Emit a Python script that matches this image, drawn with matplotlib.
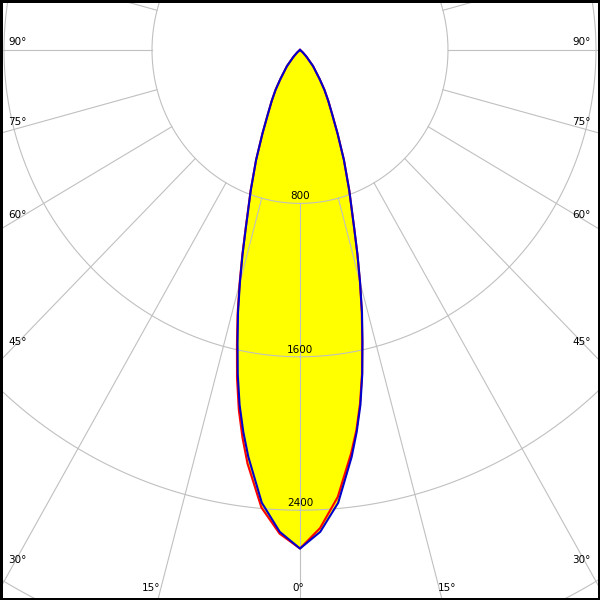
import numpy as np
import matplotlib
matplotlib.use('Agg')
import matplotlib.pyplot as plt

# gamma angles (deg) and luminous intensity (cd)
angles = [0, 2.5, 5, 7.5, 8.75, 10, 11.25, 12.5, 13.75, 15, 16.25, 17.5, 20, 22.5, 25, 27.5,
          30, 32.5, 35, 40, 45, 50, 55, 60, 70, 80, 90]
c0 = [2600, 2495, 2340, 2120, 2005, 1870, 1720, 1555, 1405, 1252, 1108, 973, 778, 620, 480, 375,
      305, 245, 185, 110, 50, 20, 6, 0, 0, 0, 0]
c180 = [2600, 2525, 2395, 2175, 2045, 1905, 1745, 1575, 1420, 1262, 1115, 978, 780, 620, 480, 375,
        305, 245, 185, 110, 50, 20, 6, 0, 0, 0, 0]
c90 = [2600, 2515, 2370, 2140, 2015, 1880, 1725, 1560, 1410, 1255, 1110, 975, 778, 620, 480, 375,
       305, 245, 185, 110, 50, 20, 6, 0, 0, 0, 0]
c270 = c90

rings = [800, 1600, 2400, 3200]
ring_labels = ["800", "1600", "2400"]
spokes = np.arange(-180, 181, 15)

# angle labels: (text, x px, y px, alignment)
angle_labels = [
    ("90°", 8, 42, 'left'), ("75°", 8, 122, 'left'), ("60°", 8, 215, 'left'),
    ("45°", 8, 342, 'left'), ("30°", 8, 560, 'left'),
    ("90°", 591, 42, 'right'), ("75°", 591, 122, 'right'), ("60°", 591, 215, 'right'),
    ("45°", 591, 342, 'right'), ("30°", 591, 560, 'right'),
    ("15°", 151, 588, 'center'), ("0°", 298, 588, 'center'), ("15°", 447, 588, 'center'),
]

W = 600
sx = 148 / 800.0      # px per cd horizontally
sy = 153.4 / 800.0    # px per cd vertically
ox, oy = 300, 50      # origin pixel


def half_curve(vals, side):
    a = np.radians(angles)
    v = np.array(vals, dtype=float)
    return side * v * np.sin(a), v * np.cos(a)


def full_curve(left_vals, right_vals):
    xl, yl = half_curve(left_vals, -1)
    xr, yr = half_curve(right_vals, 1)
    x = np.concatenate([xl[::-1], xr[1:]])
    y = np.concatenate([yl[::-1], yr[1:]])
    return x, y


fig = plt.figure(figsize=(6, 6), dpi=100)
ax = fig.add_axes([0, 0, 1, 1])
ax.set_xlim(-ox / sx, (W - ox) / sx)
ax.set_ylim((W - oy) / sy, -oy / sy)
ax.set_xticks([])
ax.set_yticks([])
for s in ax.spines.values():
    s.set_linewidth(3.6)
    s.set_color('black')

red_x, red_y = full_curve(c180, c0)
blue_x, blue_y = full_curve(c270, c90)

ax.fill(red_x, red_y, color='#ffff00', zorder=1, lw=0)
ax.fill(blue_x, blue_y, color='#ffff00', zorder=1, lw=0)

# grid
grid_col = '#c0c0c0'
t = np.linspace(0, 2 * np.pi, 400)
for r in rings:
    ax.plot(r * np.sin(t), r * np.cos(t), color=grid_col, lw=0.8, zorder=2)
for g in spokes:
    a = np.radians(g)
    ax.plot([rings[0] * np.sin(a), 6000 * np.sin(a)],
            [rings[0] * np.cos(a), 6000 * np.cos(a)],
            color=grid_col, lw=0.8, zorder=2)

ax.plot(red_x, red_y, color='#ff0000', lw=1.5, zorder=3)
ax.plot(blue_x, blue_y, color='#0000cc', lw=1.5, zorder=4)

for r, lab in zip(rings, ring_labels):
    ax.annotate(lab, (0, r), xytext=(0, 1.5), textcoords='offset points',
                ha='center', va='bottom', fontsize=7.5, zorder=5)

for lab, px, py, ha in angle_labels:
    ax.text(px / W, 1 - py / W, lab, transform=ax.transAxes, ha=ha, va='center',
            fontsize=7.5, zorder=5)

fig.savefig('out.png', dpi=100)
